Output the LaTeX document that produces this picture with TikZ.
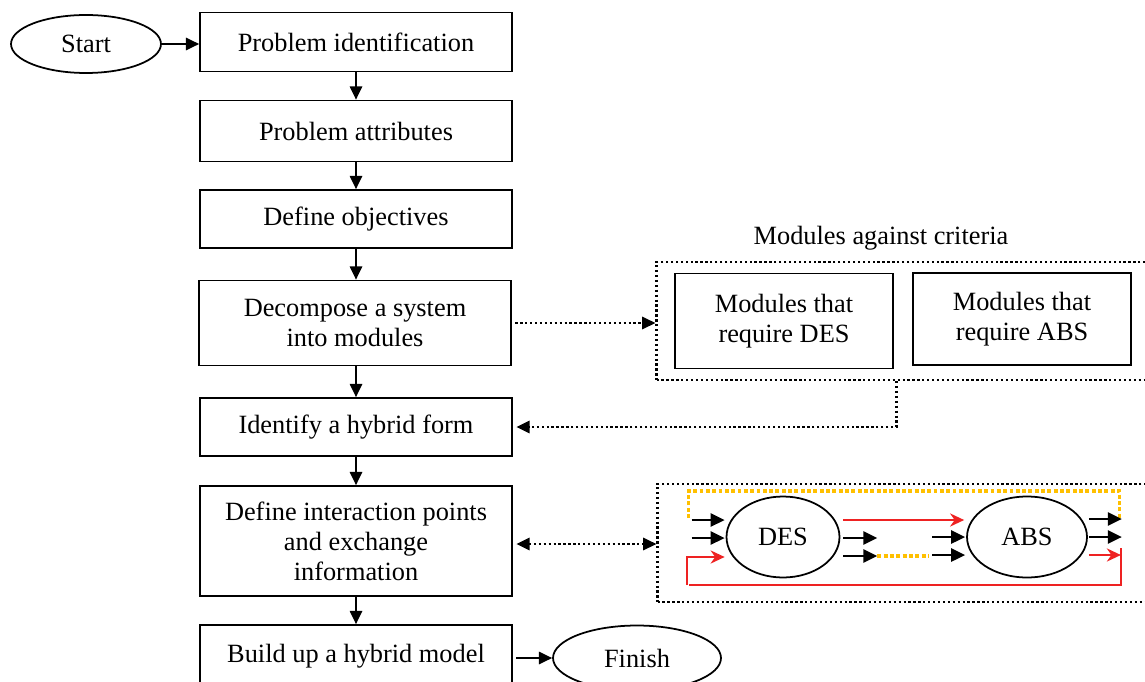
\documentclass[tikz,border=0pt]{standalone}
\usepackage{fontspec}
\setmainfont{Liberation Serif}
\usepackage{tikz}
\usetikzlibrary{shapes,arrows.meta,positioning,calc}
\definecolor{gold}{HTML}{FFC000}
\definecolor{loopred}{HTML}{EE2222}

\tikzset{
    procbox/.style={draw, rectangle, line width=1pt, minimum width=6.24cm, align=center},
    termnode/.style={draw, ellipse, line width=1pt},
    dotbox/.style={draw, rectangle, line width=1.3pt, dash pattern=on 1.3pt off 1.5pt, minimum width=9.86cm, minimum height=2.36cm},
    flow/.style={-{Triangle[length=7.5pt,width=7pt]}, line width=1pt},
    dotflow/.style={line width=1.3pt, dash pattern=on 1.3pt off 1.5pt},
    small/.style={-{Triangle[length=8pt,width=7.5pt]}, line width=1.4pt},
    redflow/.style={-{Stealth[length=8pt,width=7.5pt]}, line width=1.1pt, loopred},
    goldline/.style={gold, line width=1.8pt, dash pattern=on 2.2pt off 1.4pt}
}

\begin{document}
\begin{tikzpicture}[x=0.02cm, y=-0.02cm, font=\fontsize{15}{17}\selectfont]
    \fill[white] (0,0) rectangle (1145,682);
    \useasboundingbox (0,0) rectangle (1145,682);

    \node[termnode, minimum width=3cm, minimum height=1.16cm] (start) at (86,44) {Start};
    \node[procbox, minimum height=1.18cm] (ident) at (356,42) {Problem identification};
    \node[procbox, minimum height=1.22cm] (attr) at (356,131) {Problem attributes};
    \node[procbox, minimum height=1.16cm] (obj) at (356,219) {Define objectives};
    \node[procbox, minimum height=1.7cm] (decomp) at (355,323) {Decompose a system\\into modules};
    \node[procbox, minimum height=1.16cm] (hybrid) at (356,427) {Identify a hybrid form};
    \node[procbox, minimum height=2.2cm] (interact) at (356,541) {Define interaction points\\and exchange\\information};
    \node[procbox, minimum height=1.24cm] (build) at (356,656) {Build up a hybrid model};
    \node[termnode, minimum width=3.36cm, minimum height=1.3cm] (finish) at (637,658) {Finish};

    \draw[flow] (start.east) -- (start.east -| ident.west);
    \draw[flow] (ident) -- (attr);
    \draw[flow] (attr) -- (obj);
    \draw[flow] (obj.south) -- (obj.south |- decomp.north);
    \draw[flow] (decomp.south -| hybrid) -- (hybrid);
    \draw[flow] (hybrid) -- (interact);
    \draw[flow] (interact) -- (build);
    \draw[flow, shorten <=2pt] (finish.west -| build.east) -- (finish.west);

    \node[dotbox] (modgroup) at (903,321) {};
    \node[anchor=south] (crit) at (881,256) {Modules against criteria};
    \node[draw, line width=1pt, minimum width=4.36cm, minimum height=1.9cm, align=center] (desmod) at (784,321) {Modules that\\require DES};
    \node[draw, line width=1pt, minimum width=4.36cm, minimum height=1.84cm, align=center] (absmod) at (1022,319) {Modules that\\require ABS};

    \draw[dotflow, -{Triangle[length=7.5pt,width=7pt]}, shorten <=2pt] (decomp.east) -- (decomp.east -| modgroup.west);
    \draw[dotflow, -{Triangle[length=7.5pt,width=7pt]}] ([xshift=-0.13cm]modgroup.south) |- ([xshift=2pt]hybrid.east);

    \node[dotbox] (exch) at (904,543) {};
    \draw[dotflow, {Triangle[length=7.5pt,width=7pt]}-{Triangle[length=7.5pt,width=7pt]}, shorten <=2pt] ([yshift=-0.06cm]interact.east) -- ([yshift=-0.06cm]interact.east -| exch.west);

    \node[termnode, minimum width=2.26cm, minimum height=1.62cm] (des) at (783,537) {DES};
    \node[termnode, minimum width=2.4cm, minimum height=1.62cm] (abs) at (1027,537) {ABS};

    \draw[goldline] ([shift={(-37,-19)}]des.west) -- ++(0,-27) -- ++(431,0) -- ++(0,27);
    \draw[small] ([shift={(-34,-17)}]des.west) -- ++(33,0);
    \draw[small] ([shift={(-34,1)}]des.west) -- ++(33,0);
    \draw[redflow] ([shift={(-39,48)}]des.west) -- ++(0,-28) -- ++(38,0);
    \draw[loopred, line width=1.1pt] ([shift={(33,11)}]abs.east) -- ++(0,37) -- ++(-432,0);

    \draw[redflow] ([shift={(3,-17)}]des.east) -- ([shift={(-2,-17)}]abs.west);
    \draw[small] ([shift={(3,1)}]des.east) -- ++(34,0);
    \draw[small] ([shift={(3,19)}]des.east) -- ++(34,0);
    \draw[goldline] ([shift={(37,19)}]des.east) -- ++(51,0);
    \draw[small] ([shift={(-34,0)}]abs.west) -- ++(33,0);
    \draw[small] ([shift={(-34,18)}]abs.west) -- ++(33,0);

    \draw[small] ([shift={(1,-18)}]abs.east) -- ++(33,0);
    \draw[small] ([shift={(1,0)}]abs.east) -- ++(33,0);
    \draw[redflow] ([shift={(1,18)}]abs.east) -- ++(32,0);
\end{tikzpicture}
\end{document}
